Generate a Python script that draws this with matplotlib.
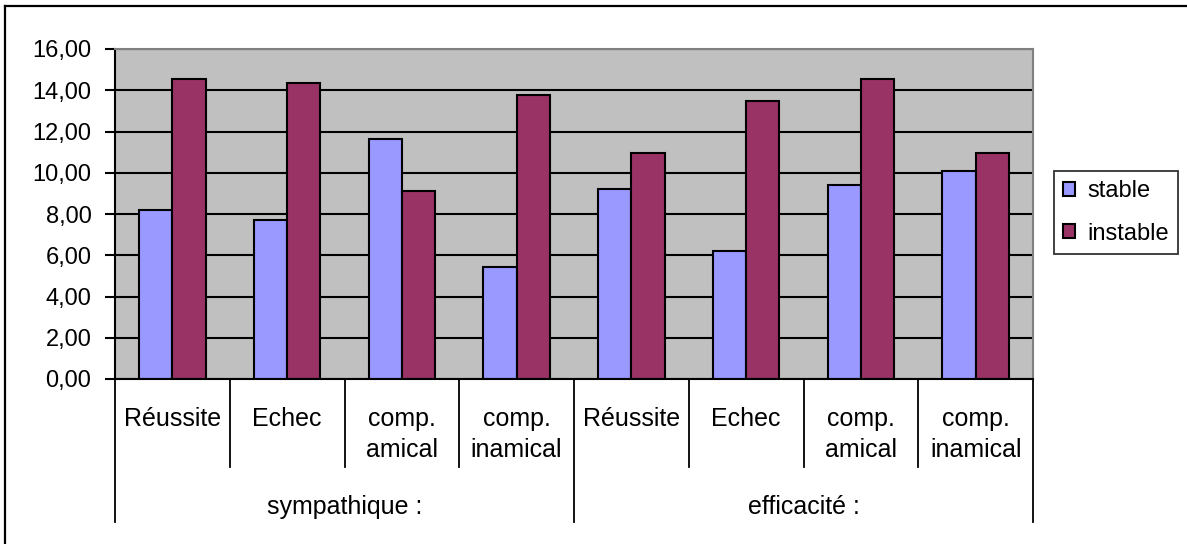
import numpy as np
import matplotlib
matplotlib.use("Agg")
import matplotlib.pyplot as plt
from matplotlib.lines import Line2D
from matplotlib.ticker import FuncFormatter, MultipleLocator

# data
categories = ["Réussite", "Echec", "comp.\namical", "comp.\ninamical",
              "Réussite", "Echec", "comp.\namical", "comp.\ninamical"]
groups = ["sympathique :", "efficacité :"]
stable = [8.21, 7.73, 11.62, 5.41, 9.20, 6.19, 9.39, 10.07]
instable = [14.53, 14.34, 9.10, 13.75, 10.94, 13.48, 14.53, 10.94]

plt.rcParams['font.family'] = ['Liberation Sans', 'DejaVu Sans']

W, H = 1187, 544
fig = plt.figure(figsize=(W / 100, H / 100), dpi=100)
ax = fig.add_axes([115 / W, 1 - 379 / H, 918 / W, 330 / H])

x = np.arange(len(categories))
w = 0.29
ax.set_facecolor("#C0C0C0")
ax.set_axisbelow(True)
ax.yaxis.grid(True, color="black", lw=1.5)
ax.bar(x - w / 2, stable, w, color="#9999FF", edgecolor="black", lw=1.5, label="stable")
ax.bar(x + w / 2, instable, w, color="#993366", edgecolor="black", lw=1.5, label="instable")

ax.set_xlim(-0.5, len(categories) - 0.5)
ax.set_ylim(0, 16)
ax.yaxis.set_major_locator(MultipleLocator(2))
ax.yaxis.set_major_formatter(FuncFormatter(lambda v, p: f"{v:.2f}".replace(".", ",")))
ax.tick_params(axis="y", labelsize=17, length=7, width=1.5, direction="out", pad=10)
ax.set_xticks([])
for s in ["top", "right"]:
    ax.spines[s].set_color("#808080")
    ax.spines[s].set_linewidth(1.5)
for s in ["left", "bottom"]:
    ax.spines[s].set_color("black")
    ax.spines[s].set_linewidth(1.5)

# category labels and separators below the axis
px = 1 / 330  # one pixel in axes fraction (vertical)
xt = ax.get_xaxis_transform()
for i, lab in enumerate(categories):
    ax.text(i, -28 * px, lab, ha="center", va="top", fontsize=18,
            transform=xt, linespacing=1.35)
for k in range(len(categories) + 1):
    xb = k - 0.5
    depth = 143 if k % 4 == 0 else 88
    ax.plot([xb, xb], [0, -depth * px], color="black", lw=1.3,
            transform=xt, clip_on=False)
for g, name in enumerate(groups):
    ax.text(g * 4 + 1.5, -128 * px, name, ha="center", va="center", fontsize=18,
            transform=xt)

leg = ax.legend(loc="upper left", bbox_to_anchor=(1054 / W, 1 - 171 / H),
                bbox_transform=fig.transFigure, fontsize=17, frameon=True,
                fancybox=False, edgecolor="black", handlelength=0.5, handleheight=0.5,
                handletextpad=0.5, borderpad=0.4, labelspacing=0.85, borderaxespad=0)
leg.get_frame().set_linewidth(1.3)

# chart frame: top and left edges
fig.add_artist(Line2D([5 / W, 1], [1 - 6 / H, 1 - 6 / H], color="black", lw=1.6,
                      transform=fig.transFigure))
fig.add_artist(Line2D([5 / W, 5 / W], [0, 1 - 6 / H], color="black", lw=1.6,
                      transform=fig.transFigure))

fig.savefig("out.png", dpi=100)
